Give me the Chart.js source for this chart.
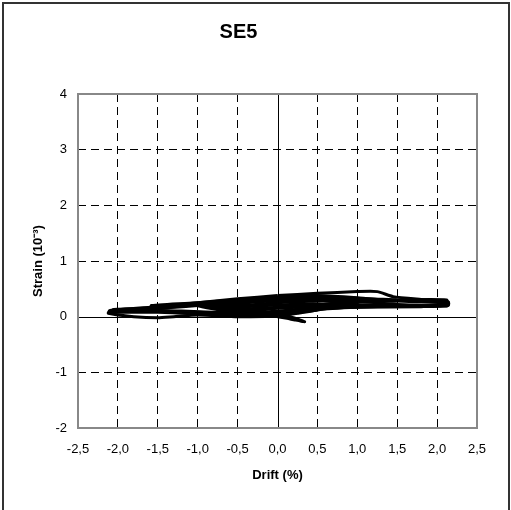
<!DOCTYPE html>
<html>
<head>
<meta charset="UTF-8">
<title>SE5</title>
<style>
    body { margin: 0; background: #fff; }
    canvas { display: block; }
</style>
</head>
<body>
<canvas id="chartCanvas" width="511" height="510"></canvas>
<script src="https://cdn.jsdelivr.net/npm/chart.js"></script>
<script>
// hysteresis loops, drift (%) vs strain (10^-3)
const loop1Drift  = [0, 0.12, 0.22, 0.34, 0.2, 0.05, -0.15, -0.3, -0.15, 0];
const loop1Strain = [0.0, -0.03, -0.06, -0.09, -0.02, 0.02, 0.04, 0.05, 0.02, 0.01];

const loop2Drift  = [0, 0.25, 0.5, 0.3, 0, -0.25, -0.5, -0.3, 0];
const loop2Strain = [0.01, 0.06, 0.12, 0.13, 0.1, 0.08, 0.1, 0.04, 0.03];
const loop2bStrain = [0.03, 0.08, 0.14, 0.17, 0.15, 0.12, 0.13, 0.06, 0.04];

const loop3Drift  = [0, 0.4, 0.75, 0.45, 0, -0.4, -0.75, -0.45, 0];
const loop3Strain = [0.03, 0.1, 0.18, 0.2, 0.17, 0.14, 0.15, 0.06, 0.04];
const loop3bStrain = [0.04, 0.12, 0.2, 0.23, 0.21, 0.18, 0.17, 0.08, 0.05];

const loop4Drift  = [0, 0.5, 1.0, 0.55, 0, -0.5, -1.0, -0.55, 0];
const loop4Strain = [0.04, 0.14, 0.24, 0.28, 0.25, 0.2, 0.2, 0.08, 0.05];
const loop4bStrain = [0.05, 0.16, 0.26, 0.3, 0.29, 0.24, 0.22, 0.1, 0.06];

const loop5Drift  = [0, 0.5, 1.0, 1.5, 1.0, 0.5, 0, -0.5, -1.0, -1.58, -1.58, -1.2, -0.6, 0];
const loop5Strain = [0.05, 0.18, 0.27, 0.3, 0.33, 0.35, 0.33, 0.3, 0.25, 0.2, 0.13, 0.08, 0.04, 0.04];
const loop5bStrain = [0.06, 0.2, 0.26, 0.28, 0.31, 0.32, 0.31, 0.27, 0.22, 0.18, 0.12, 0.1, 0.07, 0.06];

const loop6Drift  = [0, 0.5, 1.0, 1.5, 2.12, 2.12, 1.5, 1.0, 0.5, 0.2, 0, -0.5, -1.0, -1.3, -1.5, -1.8, -2.12, -2.1, -1.5, -1.0, -0.5, 0];
const loop6Strain = [0.04, 0.2, 0.28, 0.3, 0.3, 0.22, 0.19, 0.17, 0.13, 0.06, 0.01, 0.0, 0.03, 0.0, -0.02, 0.0, 0.06, 0.11, 0.18, 0.25, 0.32, 0.38];

const loop7Drift  = [0, 0.5, 1.0, 1.25, 1.45, 1.8, 2.14, 2.14, 1.8, 1.0, 0.5, 0.2, 0, -0.5, -1.0, -1.5, -2.1, -2.05, -1.5, -1.0, -0.5, 0];
const loop7Strain = [0.38, 0.42, 0.45, 0.45, 0.36, 0.31, 0.27, 0.2, 0.18, 0.17, 0.14, 0.07, 0.02, 0.02, 0.05, 0.08, 0.08, 0.12, 0.16, 0.22, 0.3, 0.36];

const loop8Drift  = [0, 0.5, 1.0, 1.5, 2.1, 2.12, 1.5, 1.0, 0.5, 0.2, 0, -0.5, -1.0, -1.5, -2.08, -2.05, -1.5, -1.0, -0.5, 0];
const loop8Strain = [0.36, 0.38, 0.34, 0.28, 0.25, 0.19, 0.22, 0.21, 0.17, 0.1, 0.05, 0.05, 0.08, 0.1, 0.1, 0.13, 0.15, 0.2, 0.27, 0.33];

const loops = [
    [loop1Drift, loop1Strain],
    [loop2Drift, loop2Strain],
    [loop2Drift, loop2bStrain],
    [loop3Drift, loop3Strain],
    [loop3Drift, loop3bStrain],
    [loop4Drift, loop4Strain],
    [loop4Drift, loop4bStrain],
    [loop5Drift, loop5Strain],
    [loop5Drift, loop5bStrain],
    [loop6Drift, loop6Strain],
    [loop7Drift, loop7Strain],
    [loop8Drift, loop8Strain]
];

const FONT = 'Liberation Sans, Arial, sans-serif';
Chart.defaults.font.family = FONT;
Chart.defaults.color = '#000';

const datasets = loops.map(([xs, ys]) => ({
    data: xs.map((x, i) => ({ x: x, y: ys[i] })),
    showLine: true,
    borderColor: '#000',
    borderWidth: 3,
    pointRadius: 0,
    tension: 0.2,
    fill: false
}));

// grid lines: dashed, but hide the zero lines and the edges (drawn separately)
function gridColor(ctx) {
    const v = ctx.tick.value;
    if (Math.abs(v) < 1e-9) return 'transparent';
    if (ctx.scale.axis === 'x' && Math.abs(Math.abs(v) - 2.5) < 1e-9) return 'transparent';
    if (ctx.scale.axis === 'y' && (v === 4 || v === -2)) return 'transparent';
    return '#000';
}

const framePlugin = {
    id: 'frame',
    beforeDraw(chart) {
        const ctx = chart.ctx;
        ctx.save();
        ctx.fillStyle = '#fff';
        ctx.fillRect(0, 0, chart.width, chart.height);
        ctx.restore();
    },
    beforeDatasetsDraw(chart) {
        const { ctx, chartArea, scales } = chart;
        const x0 = Math.round(scales.x.getPixelForValue(0)) + 0.5;
        const y0 = Math.round(scales.y.getPixelForValue(0)) + 0.5;
        ctx.save();
        ctx.strokeStyle = '#000';
        ctx.lineWidth = 1;
        ctx.setLineDash([]);
        ctx.beginPath();
        ctx.moveTo(x0, chartArea.top);
        ctx.lineTo(x0, chartArea.bottom);
        ctx.moveTo(chartArea.left, y0);
        ctx.lineTo(chartArea.right, y0);
        ctx.stroke();
        ctx.restore();
    },
    afterDraw(chart) {
        const { ctx, chartArea } = chart;
        ctx.save();
        ctx.strokeStyle = '#888';
        ctx.lineWidth = 2;
        ctx.strokeRect(chartArea.left, chartArea.top,
            chartArea.right - chartArea.left, chartArea.bottom - chartArea.top);
        // outer frame of the figure
        ctx.strokeStyle = '#333';
        ctx.lineWidth = 2;
        ctx.beginPath();
        ctx.moveTo(3, chart.height);
        ctx.lineTo(3, 3);
        ctx.lineTo(chart.width - 2, 3);
        ctx.lineTo(chart.width - 2, chart.height);
        ctx.stroke();
        ctx.restore();
    }
};

new Chart(document.getElementById('chartCanvas'), {
    type: 'scatter',
    data: { datasets },
    options: {
        responsive: false,
        animation: false,
        devicePixelRatio: 1,
        layout: { padding: { left: 0, right: 34, top: 0, bottom: 0 } },
        plugins: {
            legend: { display: false },
            tooltip: { enabled: false },
            title: {
                display: true,
                text: 'SE5',
                color: '#000',
                font: { size: 20, weight: 'bold', family: FONT },
                padding: { top: 20, bottom: 50 }
            }
        },
        scales: {
            x: {
                type: 'linear',
                min: -2.5,
                max: 2.5,
                afterFit(scale) { scale.height = 82; },
                ticks: {
                    stepSize: 0.5,
                    padding: 14,
                    color: '#000',
                    font: { size: 13 },
                    callback: v => v.toFixed(1).replace('.', ',')
                },
                grid: { color: gridColor, lineWidth: 1, drawTicks: false },
                border: { display: false, dash: [8, 5] },
                title: {
                    display: true,
                    text: 'Drift (%)',
                    color: '#000',
                    font: { size: 13, weight: 'bold' },
                    padding: { top: 0, bottom: 27 }
                }
            },
            y: {
                type: 'linear',
                min: -2,
                max: 4,
                afterFit(scale) { scale.width = 78; },
                ticks: {
                    stepSize: 1,
                    padding: 11,
                    color: '#000',
                    font: { size: 13 }
                },
                grid: { color: gridColor, lineWidth: 1, drawTicks: false },
                border: { display: false, dash: [8, 5] },
                title: {
                    display: true,
                    text: 'Strain (10⁻³)',
                    color: '#000',
                    font: { size: 13, weight: 'bold' },
                    padding: { top: 31, bottom: 0 }
                }
            }
        }
    },
    plugins: [framePlugin]
});
</script>
</body>
</html>
